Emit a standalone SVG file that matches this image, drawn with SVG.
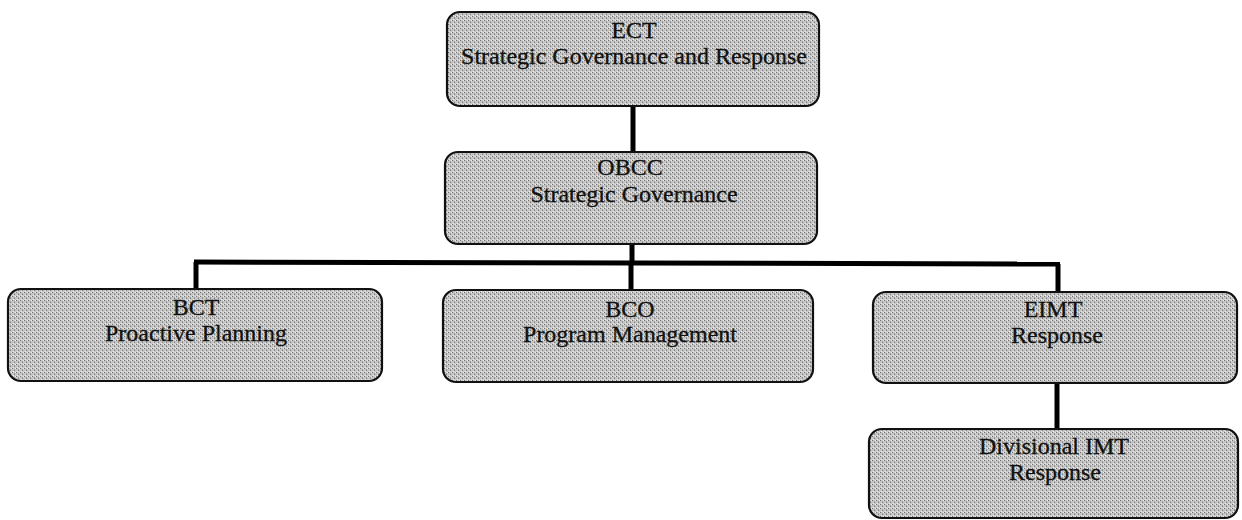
<svg xmlns="http://www.w3.org/2000/svg" width="1242" height="520" viewBox="0 0 1242 520">
<defs>
<pattern id="stip" width="4" height="4" patternUnits="userSpaceOnUse">
<rect width="4" height="4" fill="#c6c6c6"/>
<rect x="0" y="0" width="1" height="1" fill="#707070"/>
<rect x="2" y="2" width="1" height="1" fill="#808080"/>
<rect x="3" y="0" width="1" height="1" fill="#ececec"/>
<rect x="1" y="3" width="1" height="1" fill="#ececec"/>
<rect x="2" y="1" width="1" height="1" fill="#a0a0a0"/>
</pattern>
</defs>
<style>
.box{fill:url(#stip);stroke:#111;stroke-width:2.2}
.t{font-family:"Liberation Serif","Times New Roman",serif;font-size:24px;fill:#111;stroke:#111;stroke-width:0.3;text-anchor:middle}
.c{stroke:#000;stroke-width:5;fill:none}
</style>
<rect width="1242" height="520" fill="#fff"/>
<g id="connectors">
<line class="c" x1="633" y1="105" x2="633" y2="153"/>
<line class="c" x1="632" y1="243" x2="632" y2="264"/>
<line class="c" x1="194" y1="262" x2="1060" y2="264"/>
<line class="c" x1="196" y1="262" x2="196" y2="290"/>
<line class="c" x1="631" y1="263" x2="631" y2="291"/>
<line class="c" x1="1058" y1="264" x2="1058" y2="293"/>
<line class="c" x1="1057" y1="382" x2="1057" y2="430"/>
</g>
<g id="ECT">
<rect class="box" x="447" y="12" width="372" height="94" rx="13"/>
<text class="t" x="634" y="38">ECT</text>
<text class="t" x="634" y="64">Strategic Governance and Response</text>
</g>
<g id="OBCC">
<rect class="box" x="445" y="152" width="372" height="92" rx="13"/>
<text class="t" x="630" y="175">OBCC</text>
<text class="t" x="634" y="202">Strategic Governance</text>
</g>
<g id="BCT">
<rect class="box" x="8" y="289" width="374" height="92" rx="13"/>
<text class="t" x="196" y="315">BCT</text>
<text class="t" x="196" y="341">Proactive Planning</text>
</g>
<g id="BCO">
<rect class="box" x="443" y="290" width="370" height="92" rx="13"/>
<text class="t" x="630" y="317">BCO</text>
<text class="t" x="630" y="342">Program Management</text>
</g>
<g id="EIMT">
<rect class="box" x="873" y="292" width="364" height="91" rx="13"/>
<text class="t" x="1053" y="317">EIMT</text>
<text class="t" x="1057" y="343">Response</text>
</g>
<g id="DivisionalIMT">
<rect class="box" x="869" y="429" width="369" height="89" rx="13"/>
<text class="t" x="1054" y="454">Divisional IMT</text>
<text class="t" x="1055" y="480">Response</text>
</g>
</svg>
